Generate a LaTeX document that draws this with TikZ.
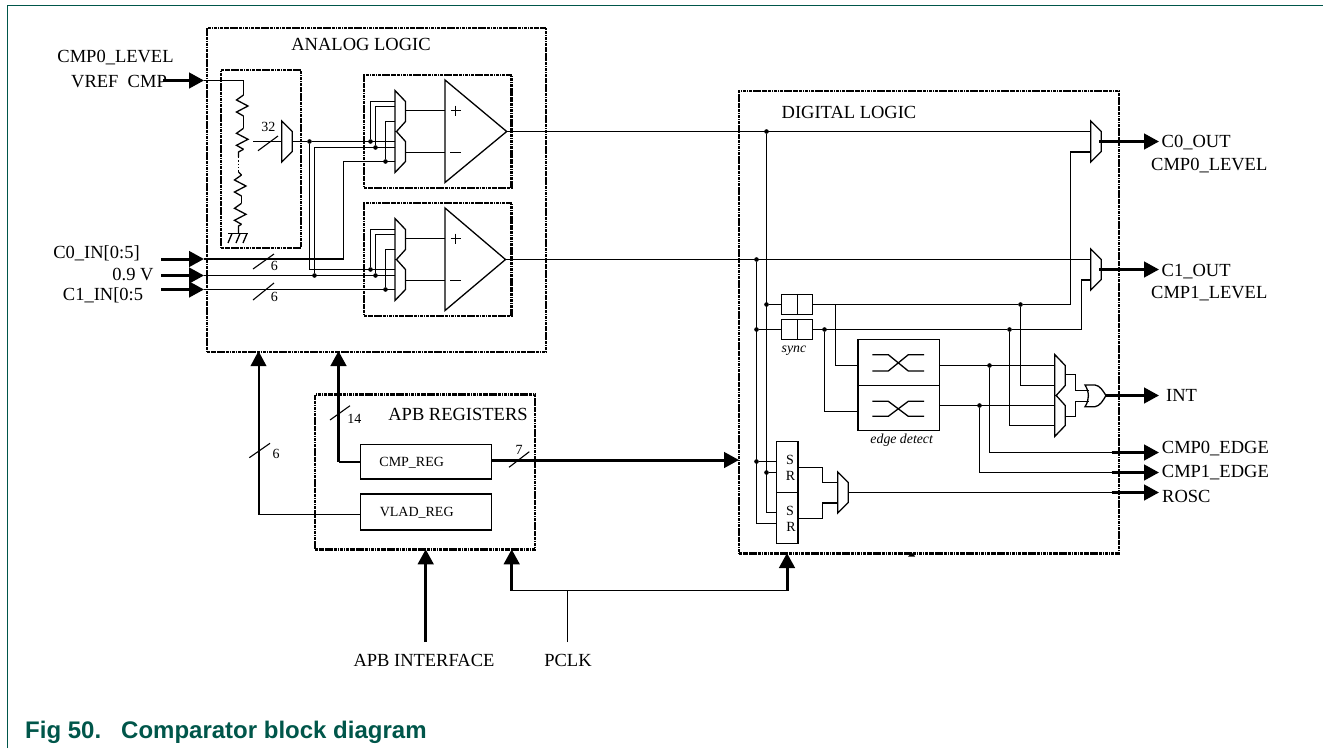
\documentclass[tikz,border=0pt]{standalone}
\usepackage{fontspec}
\setmainfont{Liberation Serif}
\newfontfamily\captionfont{Liberation Sans}
\usetikzlibrary{arrows.meta,calc,positioning}

\begin{document}
\begin{tikzpicture}[
    x=1pt,y=-1pt,
    line join=miter,
    line cap=butt,
    wire/.style={line width=1.3pt, black},
    midwire/.style={line width=2pt, black},
    slash/.style={line width=1.1pt, black},
    busarrow/.style={-{Triangle[length=15pt,width=15.5pt]}, line width=3pt, black},
    midarrow/.style={-{Triangle[length=15pt,width=15.5pt]}, line width=2pt, black},
    dashbox/.style={draw, rectangle, line width=2.4pt, dash pattern=on 3.2pt off 0.7pt on 1.6pt off 0.7pt, inner sep=0pt},
    regbox/.style={draw, rectangle, line width=1.3pt, inner sep=0pt},
    dot/.style={circle, fill=black, inner sep=0pt, minimum size=4.6pt},
    bigtext/.style={font=\fontsize{18.5}{20}\selectfont, inner sep=0pt, text height=12.3pt, text depth=0pt},
    smalltext/.style={font=\fontsize{14}{16}\selectfont, inner sep=0pt, text height=9.3pt, text depth=0pt},
    smallitalic/.style={font=\fontsize{13.8}{16}\selectfont\itshape, inner sep=0pt, text height=8pt, text depth=0pt}
]

% -------------------------------------------------
% Palette
% -------------------------------------------------
\definecolor{framegreen}{HTML}{00564A}

\useasboundingbox (0,0) rectangle (1323,748);
\draw[line width=1.4pt, framegreen] (7.5,748) -- (7.5,5.5) -- (1323,5.5);
\node[font=\captionfont\bfseries\fontsize{24}{26}\selectfont, text=framegreen, anchor=west, inner sep=0pt, text height=17pt, text depth=0pt]
    (figcaption) at (25,729.5) {Fig 50.\hspace{20pt}Comparator block diagram};

% -------------------------------------------------
% Dashed blocks
% -------------------------------------------------
\foreach \bx/\bw/\bh/\bcx/\bcy in {
    analog/339/324/376.5/190,
    refbox/80/178/261/159,
    cmpbox0/147.6/112.7/437.8/131.35,
    cmpbox1/147.6/112.7/437.8/259.35,
    apb/220/155/425/471.8,
    digital/380/462.3/929/322.15} {
    \node[dashbox, minimum width=\bw pt, minimum height=\bh pt] (\bx) at (\bcx,\bcy) {};
}
\fill (908.2,556.5) -- (911.7,552.5) -- (915.2,556.5) -- cycle;

% -------------------------------------------------
% Texts
% -------------------------------------------------
\node[bigtext] (analogtext) at (361,44) {ANALOG LOGIC};
\node[bigtext] (digitaltext) at (849,112) {DIGITAL LOGIC};
\node[bigtext] (apbtext) at (458,414) {APB REGISTERS};
\node[bigtext] (levelin) at (115.5,56.7) {CMP0\_LEVEL};
\node[bigtext] (vreftext) at (119,81.7) {VREF\ \ CMP};
\node[bigtext] (c0text) at (96.5,252.5) {C0\_IN[0:5]};
\node[bigtext] (nine) at (133,274) {0.9 V};
\node[bigtext] (c1text) at (103,294) {C1\_IN[0:5};
\node[bigtext] (apbif) at (424,660) {APB INTERFACE};
\node[bigtext] (pclktext) at (568,660) {PCLK};

\foreach \tn/\tx/\ty/\tt in {
    c0out/1161.5/141/C0\_OUT,
    level0/1151/164/CMP0\_LEVEL,
    c1out/1161.5/270/C1\_OUT,
    level1/1151/292/CMP1\_LEVEL,
    inttext/1166/395.7/INT,
    edge0text/1161.7/447.3/CMP0\_EDGE,
    edge1text/1161.7/471.7/CMP1\_EDGE,
    rosctext/1162/496.7/ROSC} {
    \node[bigtext, anchor=west] (\tn) at (\tx,\ty) {\tt};
}

\foreach \tn/\tx/\ty/\tt in {
    bits32/268.4/127/32,
    bits6a/274.4/265.7/6,
    bits6b/274.4/296.7/6,
    bits6c/276/454.3/6,
    bits14/354.3/419.3/14,
    bits7/519/450/7,
    cmpregtext/411.7/462.3/CMP\_REG,
    vladtext/416.7/512.3/VLAD\_REG,
    sr0s/790/460/S,
    sr0r/790.5/476/R,
    sr1s/790/511/S,
    sr1r/791/527/R} {
    \node[smalltext] (\tn) at (\tx,\ty) {\tt};
}
\node[smallitalic] (synctext) at (794,348) {sync};
\node[smallitalic] (edgetext) at (901.7,439) {edge detect};

% -------------------------------------------------
% Register, sync, edge and SR boxes
% -------------------------------------------------
\node[regbox, minimum width=131pt, minimum height=34.7pt] (cmpreg) at (426.2,461.65) {};
\node[regbox, minimum width=131pt, minimum height=36pt] (vladreg) at (426.2,512) {};
\node[regbox, minimum width=31pt, minimum height=20pt] (sync0) at (797.2,304.5) {};
\node[regbox, minimum width=31pt, minimum height=20pt] (sync1) at (797.2,329.5) {};
\node[regbox, minimum width=81.3pt, minimum height=46pt] (edge0) at (898.65,362.7) {};
\node[regbox, minimum width=81.3pt, minimum height=45pt] (edge1) at (898.65,408.2) {};
\node[regbox, minimum width=21.7pt, minimum height=51pt] (sr0) at (787.1,467.2) {};
\node[regbox, minimum width=21.7pt, minimum height=51pt] (sr1) at (787.1,518.2) {};
\draw[wire] (sync0.north) -- (sync0.south);
\draw[wire] (sync1.north) -- (sync1.south);

% crossing marks inside the edge detectors
\foreach \ey/\el in {354.7/371,401.3/416.3} {
    \draw[wire] (872.3,\ey) -- (888.3,\ey) -- (908.3,\el) -- (924,\el);
    \draw[wire] (872.3,\el) -- (888.3,\el) -- (908.3,\ey) -- (924,\ey);
}

% -------------------------------------------------
% Muxes
% -------------------------------------------------
\foreach \m/\mx/\my in {vmux/281.7/141.5, muxc0/1090.7/141.5, muxc1/1090.7/269.5, muxrosc/837.7/492.5} {
    \draw[wire] (\mx,\my-20.5) -- (\mx+10.5,\my-10) -- (\mx+10.5,\my+10) -- (\mx,\my+20.5) -- cycle;
    \coordinate (\m-ina) at (\mx,\my-10);
    \coordinate (\m-inb) at (\mx,\my+10.5);
    \coordinate (\m-w) at (\mx,\my);
    \coordinate (\m-out) at (\mx+10.5,\my);
}

\foreach \m/\mx/\my in {cmp0/395/131.5, cmp1/395/259.5, mint/1054.7/395.5} {
    \draw[wire] (\mx,\my-41) -- (\mx+10.5,\my-30) -- (\mx+10.5,\my-10) -- (\mx+1.5,\my)
        -- (\mx+10.5,\my+10) -- (\mx+10.5,\my+30) -- (\mx,\my+41) -- cycle;
    \coordinate (\m-ia) at (\mx,\my-30);
    \coordinate (\m-ib) at (\mx,\my-25);
    \coordinate (\m-ic) at (\mx,\my-10);
    \coordinate (\m-id) at (\mx,\my+10);
    \coordinate (\m-ie) at (\mx,\my+16);
    \coordinate (\m-if) at (\mx,\my+30);
    \coordinate (\m-outa) at (\mx+10.5,\my-21);
    \coordinate (\m-outb) at (\mx+10.5,\my+21);
}

% -------------------------------------------------
% Comparators
% -------------------------------------------------
\foreach \m/\my/\tipx in {cmp0/131.5/506.7, cmp1/259.5/505.5} {
    \draw[wire] (445,\my-51.5) -- (\tipx,\my) -- (445,\my+51) -- cycle;
    \coordinate (\m-tip) at (\tipx,\my);
    \coordinate (\m-plus) at (445,\my-21);
    \coordinate (\m-minus) at (445,\my+21);
    \draw[wire] (\m-outa) -- (\m-plus);
    \draw[wire] (\m-outb) -- (\m-minus);
    \draw[wire] (450.5,\my-21) -- (461,\my-21);
    \draw[wire] (455.5,\my-26) -- (455.5,\my-16);
    \draw[wire] (450,\my+21) -- (461,\my+21);
}

% OR gate
\draw[wire] (1085,385) -- (1095,385) .. controls (1100,385.5) and (1103,391) .. (1106,395.5)
    .. controls (1103,400.5) and (1100,406) .. (1095,406.7) -- (1085,406.7)
    .. controls (1089.5,400) and (1089.5,392) .. (1085,385) -- cycle;
\coordinate (ortop) at (1089,390.5);
\coordinate (orlow) at (1089,401.5);
\coordinate (ortip) at (1105,395.5);

% -------------------------------------------------
% Junctions
% -------------------------------------------------
\foreach \dn/\dx/\dy in {
    jref/309.5/141.5,
    j09/314.5/275.5,
    a0/370.5/141.5, b0/375.5/147.5, c0/385.5/161.5,
    a1/370.5/269.5, b1/375.5/275.5, c1/385.5/289.5,
    jc0/766.5/131.5, jc1/756.5/259.5,
    jsa/766.5/304.5, jsb/756.5/329.5,
    jsra/756.5/461.5, jsrb/766.5/472.5,
    jtwo/824.5/329.5,
    jq0/1020.5/304.5, jq1/1009.5/329.5,
    jedge0/989.5/365.5, jedge1/979.5/405.5} {
    \node[dot] (\dn) at (\dx,\dy) {};
}

% -------------------------------------------------
% Free ends of the connectors
% -------------------------------------------------
\foreach \cn/\cx/\cy in {
    vstart/163/80.5, vpin/204/80.5, vtop/243.5/95,
    nstart/161/275.5, npin/204/275.5,
    c0start/161/259, c0pin/204/259, c0bend/343.5/161.5,
    c1start/161/289.5, c1pin/204/289.5,
    vbus/253/141.5,
    c0sel/1070.5/152, c1sel/1081.5/280,
    tap0/835.5/304.5,
    ein0/858/365.5, ein1/858/411.5,
    eout1/939.3/405.5,
    thick0/1111.7/452.5, end0/1159/452.5,
    thick1/1111.7/472.5, end1/1159/472.5,
    thickr/1111.7/492.5, endr/1159/492.5,
    endint/1159/395.5,
    c0o/1159/141.5, c1o/1159/269.5,
    regout/491.7/460, digin/739/460,
    up14/338.5/351, bend14/338.5/461.5, reg14/360.7/461.5,
    up6/258.5/351, bend6/258.5/514.5, reg6/360.7/514.5,
    apbstart/425.7/642, apbend/425.7/549.3,
    pclkleft/511.7/590.5, pclkend/511.7/549.3,
    pclkright/787/590.5, pclktip/787/553,
    pclkfoot/567.5/642, pclkjoin/567.5/590.5,
    srina/776.3/461.5, srinb/776.3/472.5, srinc/776.3/512.5, srind/776.3/523.5} {
    \coordinate (\cn) at (\cx,\cy);
}

% -------------------------------------------------
% Resistor ladder
% -------------------------------------------------
\draw[wire] (vpin) -| (vtop);
\foreach \rx/\ry in {243.5/95,243.5/128.3,241.5/175,241.5/203.3} {
    \draw[wire] (\rx,\ry) -- (\rx-7,\ry+5) -- (\rx+4.5,\ry+11) -- (\rx-7,\ry+17) -- (\rx,\ry+21);
}
\draw[wire] (243.5,116) -- (243.5,128.3);
\draw[wire] (243.5,149.3) -- (238.5,152) -- (238.5,157);
\draw[wire, dotted] (238.5,157) -- (238.5,172);
\draw[wire] (238.5,172) -- (241.5,175);
\draw[wire] (241.5,196) -- (241.5,203.3);
\draw[wire] (241.5,224.3) -- (238.5,226) -- (238.5,233.5);
\draw[wire] (228,233.5) -- (248,233.5);
\foreach \gx in {232,240,247} {
    \draw[wire] (\gx,233.5) -- (\gx-4,243);
}

% -------------------------------------------------
% Analog wiring
% -------------------------------------------------
\draw[wire] (vbus) -- (vmux-w);
\draw[slash] (258,150.7) -- (278,136);
\draw[wire] (vmux-out) -- (jref) -- (cmp0-id);
\draw[wire] (jref) |- (cmp1-id);
\draw[wire] (j09) |- (cmp0-ie);
\draw[wire] (npin) -- (cmp1-ie);
\draw[wire] (c0pin) -| (c0bend) -- (cmp0-if);
\draw[wire] (c1pin) -- (cmp1-if);
\foreach \m/\g in {cmp0/0,cmp1/1} {
    \draw[wire] (a\g) |- (\m-ia);
    \draw[wire] (b\g) |- (\m-ib);
    \draw[wire] (c\g) |- (\m-ic);
}
\draw[slash] (253,269) -- (274,254);
\draw[slash] (253,300) -- (274,283);

% input arrows
\draw[busarrow] (vstart) -- (vpin);
\draw[busarrow] (nstart) -- (npin);
\draw[busarrow] (c0start) -- (c0pin);
\draw[busarrow] (c1start) -- (c1pin);

% -------------------------------------------------
% Digital wiring
% -------------------------------------------------
\draw[wire] (cmp0-tip) -- (muxc0-ina);
\draw[wire] (cmp1-tip) -- (muxc1-ina);
\draw[wire] (jc0) |- (srinc);
\draw[wire] (jc1) |- (srind);
\draw[wire] (jsa) -- (sync0.west);
\draw[wire] (jsb) -- (sync1.west);
\draw[wire] (jsra) -- (srina);
\draw[wire] (jsrb) -- (srinb);
\draw[wire] (sync0.east) -- (jq0) -| (c0sel) -- (muxc0-inb);
\draw[wire] (sync1.east) -- (jq1) -| (c1sel) -- (muxc1-inb);
\draw[wire] (tap0) |- (ein0);
\draw[wire] (jtwo) |- (ein1);
\draw[wire] (edge0.east |- ein0) -- (mint-ia);
\draw[wire] (eout1) -- (mint-id);
\draw[wire] (jq0) |- (mint-ic);
\draw[wire] (jq1) |- (mint-if);
\draw[wire] (jedge0) |- (thick0);
\draw[wire] (jedge1) |- (thick1);
\draw[wire] (muxrosc-out) -- (thickr);
\draw[wire] (mint-outa) -- ++(10.5,0) |- (ortop);
\draw[wire] (mint-outb) -- ++(10.5,0) |- (orlow);
\draw[wire] (sr0.east) -- ++(23.7,0) |- (muxrosc-ina);
\draw[wire] (sr1.east) -- ++(23.7,0) |- (muxrosc-inb);

% output arrows
\draw[busarrow] (muxc0-out) ++(-2,0) -- (c0o);
\draw[busarrow] (muxc1-out) ++(-2,0) -- (c1o);
\draw[busarrow] (ortip) -- (endint);
\draw[busarrow] (thick0) -- (end0);
\draw[busarrow] (thick1) -- (end1);
\draw[busarrow] (thickr) -- (endr);

% -------------------------------------------------
% Register wiring
% -------------------------------------------------
\draw[busarrow] (regout) -- (digin);
\draw[slash] (509,467.3) -- (529.3,451.7);
\draw[midwire] (reg14) -- (bend14);
\draw[busarrow] (bend14) -- (up14);
\draw[slash] (330,420) -- (350,405.7);
\draw[wire] (reg6) -- (bend6);
\draw[midarrow] (bend6) -- (up6);
\draw[slash] (249.3,457.7) -- (270,443.3);

\draw[busarrow] (apbstart) -- (apbend);
\draw[busarrow] (pclkleft) -- (pclkend);
\draw[busarrow] (pclkright) -- (pclktip);
\draw[wire] (pclkleft) -- (pclkright);
\draw[wire] (pclkfoot) -- (pclkjoin);

\end{tikzpicture}
\end{document}
